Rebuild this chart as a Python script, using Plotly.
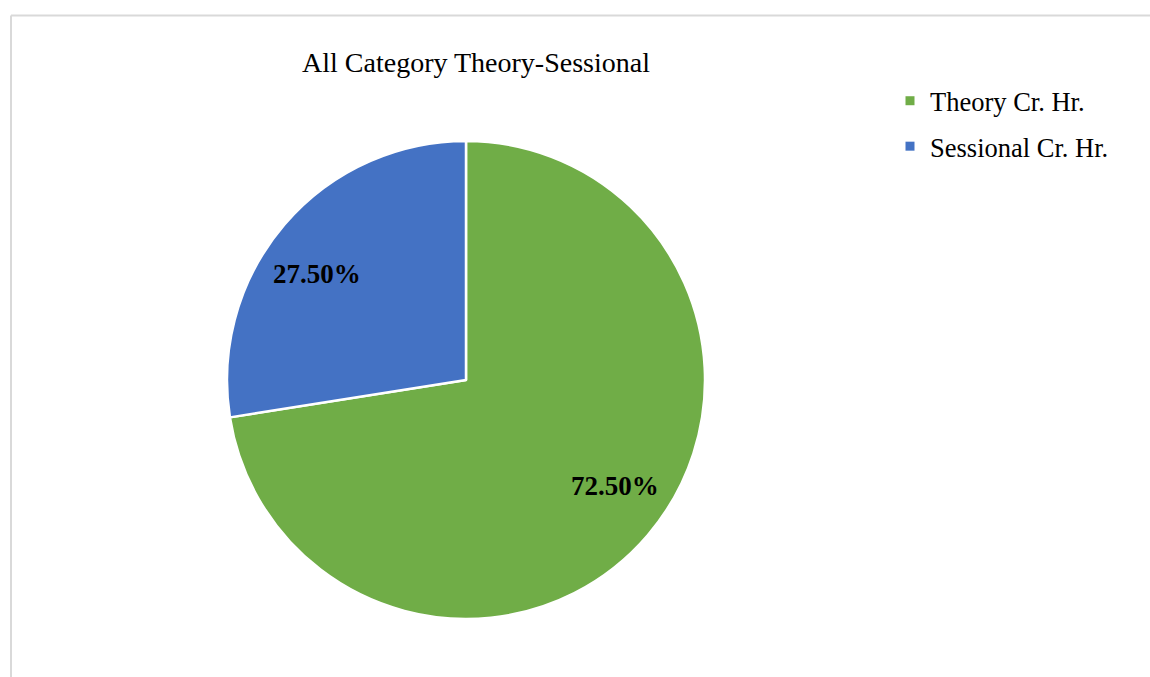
import math
import plotly.graph_objects as go

# ---- data ----
labels = ["Theory Cr. Hr.", "Sessional Cr. Hr."]
values = [72.5, 27.5]
label_text = ["72.50%", "27.50%"]
colors = ["#70AD47", "#4472C4"]
title_text = "All Category Theory-Sessional"

W, H = 1150, 677
cx, cy, r = 466, 380, 239  # pie centre/radius in pixels

dom_x = [(cx - r) / W, (cx + r) / W]
dom_y = [(H - (cy + r)) / H, (H - (cy - r)) / H]

fig = go.Figure()
fig.add_trace(go.Pie(
    labels=labels, values=values,
    marker=dict(colors=colors, line=dict(color="white", width=2.5)),
    sort=False, direction="clockwise", rotation=0,
    textinfo="none", hoverinfo="label+percent",
    domain=dict(x=dom_x, y=dom_y),
    showlegend=False,
))

# legend entries (one per slice) with square markers
for lab, col in zip(labels, colors):
    fig.add_trace(go.Scatter(
        x=[None], y=[None], mode="markers", name=lab, legendgroup=lab,
        marker=dict(symbol="square", size=9, color=col),
        showlegend=True, hoverinfo="skip",
    ))

# data labels placed near the mid-angle of each slice
total = sum(values)
cum = 0
annotations = []
for v, t in zip(values, label_text):
    mid = (cum + v / 2) / total * 2 * math.pi - math.radians(5)
    cum += v
    px = cx + 0.765 * r * math.sin(mid)
    py = cy - 0.765 * r * math.cos(mid)
    annotations.append(dict(
        x=px / W, y=1 - py / H, xref="paper", yref="paper",
        text=t, showarrow=False,
        font=dict(family="Liberation Serif", size=27, color="black", weight="bold"),
        xanchor="center", yanchor="middle",
    ))

fig.update_layout(
    width=W, height=H,
    margin=dict(l=0, r=0, t=0, b=0),
    paper_bgcolor="white", plot_bgcolor="white",
    xaxis=dict(visible=False), yaxis=dict(visible=False),
    title=dict(text=title_text, x=476 / W, xanchor="center",
               y=1 - 62 / H, yanchor="middle", yref="container",
               font=dict(family="Liberation Serif", size=28, color="black")),
    legend=dict(x=890 / W, y=1 - 77 / H, xanchor="left", yanchor="top",
                font=dict(family="Liberation Serif", size=26.5, color="black"),
                itemwidth=30, tracegroupgap=8, traceorder="grouped"),
    annotations=annotations,
    shapes=[
        dict(type="line", xref="paper", yref="paper",
             x0=11 / W, x1=1, y0=1 - 15.5 / H, y1=1 - 15.5 / H,
             line=dict(color="#d9d9d9", width=2)),
        dict(type="line", xref="paper", yref="paper",
             x0=11 / W, x1=11 / W, y0=0, y1=1 - 15.5 / H,
             line=dict(color="#d9d9d9", width=2)),
    ],
)

fig.write_html("out.html")
